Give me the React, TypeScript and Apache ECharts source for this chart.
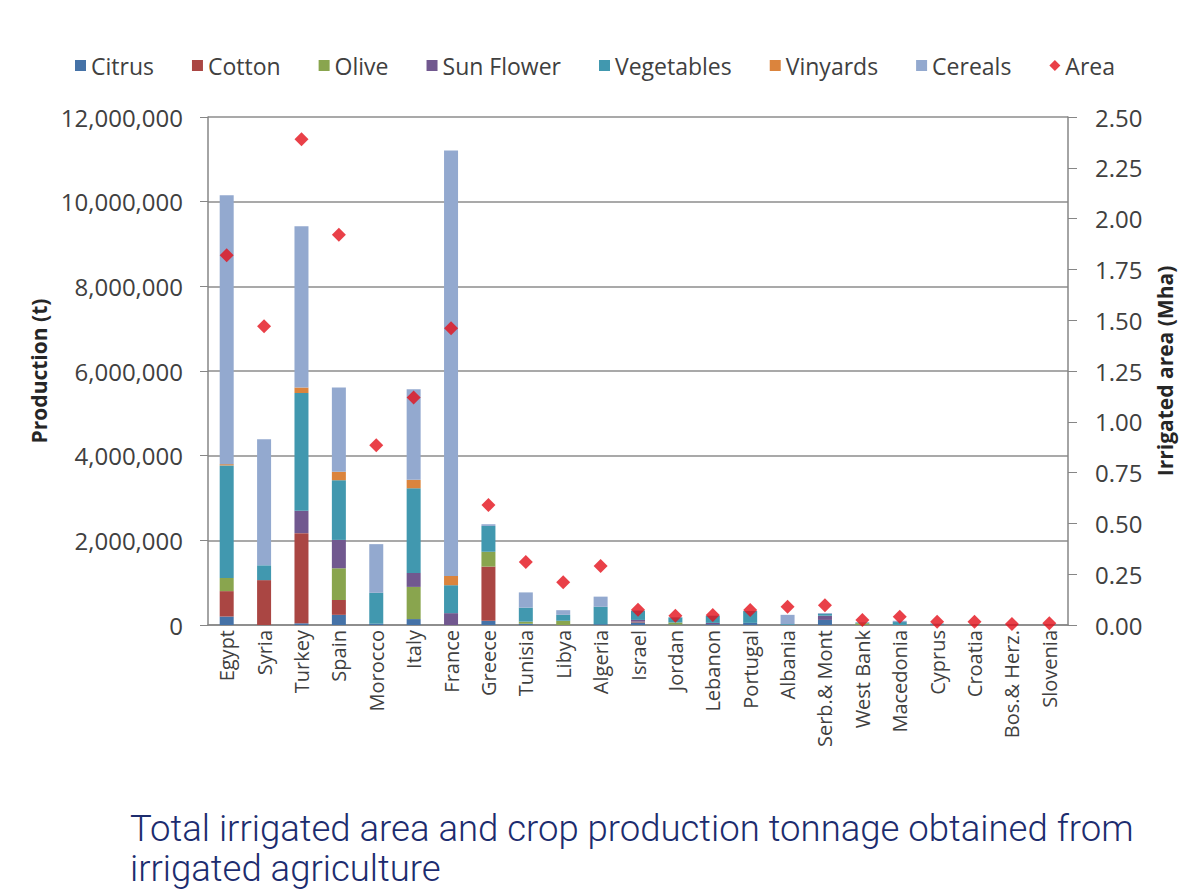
import React, { useEffect, useRef } from "react";
import * as echarts from "echarts";

const categories = ["Egypt", "Syria", "Turkey", "Spain", "Morocco", "Italy", "France", "Greece", "Tunisia", "Libya", "Algeria", "Israel", "Jordan", "Lebanon", "Portugal", "Albania", "Serb.& Mont", "West Bank", "Macedonia", "Cyprus", "Croatia", "Bos.& Herz.", "Slovenia"];

const citrus = [200000, 0, 40000, 240000, 30000, 140000, 0, 100000, 30000, 0, 20000, 60000, 10000, 20000, 50000, 0, 120000, 0, 0, 10000, 0, 0, 0];
const cotton = [600000, 1060000, 2130000, 350000, 0, 0, 0, 1280000, 0, 0, 0, 20000, 0, 0, 0, 0, 0, 0, 0, 0, 0, 0, 0];
const olive = [310000, 0, 0, 750000, 0, 760000, 0, 350000, 50000, 100000, 0, 0, 50000, 0, 0, 0, 0, 40000, 0, 0, 10000, 0, 0];
const sunFlower = [0, 0, 530000, 670000, 0, 330000, 280000, 0, 0, 0, 0, 40000, 0, 30000, 0, 0, 100000, 0, 0, 0, 0, 0, 0];
const vegetables = [2660000, 350000, 2780000, 1410000, 730000, 2000000, 660000, 610000, 330000, 140000, 410000, 220000, 120000, 170000, 280000, 20000, 40000, 20000, 70000, 20000, 10000, 10000, 10000];
const vinyards = [30000, 0, 130000, 200000, 0, 200000, 220000, 0, 0, 0, 0, 0, 0, 0, 0, 0, 0, 0, 0, 0, 0, 0, 0];
const cereals = [6350000, 2980000, 3810000, 1990000, 1150000, 2140000, 10050000, 40000, 360000, 110000, 240000, 0, 0, 0, 0, 220000, 20000, 0, 30000, 0, 0, 0, 0];
const area = [1.82, 1.47, 2.39, 1.92, 0.885, 1.12, 1.46, 0.59, 0.31, 0.21, 0.29, 0.075, 0.046, 0.049, 0.074, 0.09, 0.097, 0.025, 0.041, 0.016, 0.016, 0.005, 0.008];

const leftTicks = [0, 2000000, 4000000, 6000000, 8000000, 10000000, 12000000];

const barSeries = [
  { name: "Citrus", data: citrus, color: "#4572a7" },
  { name: "Cotton", data: cotton, color: "#aa4643" },
  { name: "Olive", data: olive, color: "#89a54e" },
  { name: "Sun Flower", data: sunFlower, color: "#71588f" },
  { name: "Vegetables", data: vegetables, color: "#4198af" },
  { name: "Vinyards", data: vinyards, color: "#db843d" },
  { name: "Cereals", data: cereals, color: "#93a9cf" },
];

const FONT = "'Open Sans', 'Noto Sans', sans-serif";

export default function App() {
  const ref = useRef<HTMLDivElement>(null);
  useEffect(() => {
    document.body.style.margin = "0";
    if (!ref.current) return;
    const chart = echarts.init(ref.current, undefined, { renderer: "svg" });
    chart.setOption({
      animation: false,
      backgroundColor: "#ffffff",
      textStyle: { fontFamily: FONT },
      legend: {
        top: 49,
        left: "center",
        itemWidth: 11,
        itemHeight: 11,
        itemGap: 38,
        textStyle: { fontSize: 23, color: "#404040", fontFamily: FONT },
        data: [
          ...barSeries.map((s) => ({ name: s.name, icon: "rect" })),
          { name: "Area", icon: "diamond" },
        ],
      },
      grid: { left: 208, right: 122, top: 117, bottom: 268 },
      xAxis: {
        type: "category",
        data: categories,
        axisLine: { lineStyle: { color: "#868686", width: 1.5 } },
        axisTick: { show: false },
        axisLabel: { rotate: 90, fontSize: 20, color: "#404040", margin: 5, interval: 0, fontFamily: FONT },
      },
      yAxis: [
        {
          type: "value",
          min: 0,
          max: 12000000,
          interval: 2000000,
          name: "Production (t)",
          nameLocation: "middle",
          nameGap: 158,
          nameTextStyle: { fontSize: 21, fontWeight: "bold", color: "#262626", fontFamily: FONT },
          axisLine: { show: true, lineStyle: { color: "#868686", width: 1.5 } },
          axisTick: { show: true, length: 8, lineStyle: { color: "#868686" } },
          axisLabel: {
            fontSize: 24,
            color: "#404040",
            margin: 25,
            fontFamily: FONT,
            formatter: (v: number) => (leftTicks.includes(v) ? v.toLocaleString("en-US") : ""),
          },
          splitLine: { show: true, lineStyle: { color: "#8c8c8c", width: 1.5 } },
        },
        {
          type: "value",
          min: 0,
          max: 2.5,
          interval: 0.25,
          name: "Irrigated area (Mha)",
          nameLocation: "middle",
          nameGap: 86,
          nameRotate: 90,
          nameTextStyle: { fontSize: 21, fontWeight: "bold", color: "#262626", fontFamily: FONT },
          axisLine: { show: true, lineStyle: { color: "#868686", width: 1.5 } },
          axisTick: { show: true, length: 9, lineStyle: { color: "#868686" } },
          axisLabel: { fontSize: 24, color: "#404040", margin: 27, fontFamily: FONT, formatter: (v: number) => v.toFixed(2) },
          splitLine: { show: false },
        },
      ],
      series: [
        ...barSeries.map((s) => ({
          name: s.name,
          type: "bar",
          stack: "total",
          barWidth: 14,
          data: s.data,
          itemStyle: { color: s.color },
        })),
        {
          name: "Area",
          type: "scatter",
          yAxisIndex: 1,
          symbol: "diamond",
          symbolSize: 14,
          data: area,
          z: 5,
          itemStyle: { color: "#e3101a" },
        },
      ],
      graphic: [
        {
          type: "text",
          left: 130,
          top: 808,
          style: {
            text: "Total irrigated area and crop production tonnage obtained from\nirrigated agriculture",
            font: "300 36.5px Roboto, 'Liberation Sans', sans-serif",
            fill: "#1c2c6e",
            lineHeight: 40,
          },
        },
      ],
    });
    return () => chart.dispose();
  }, []);
  return <div ref={ref} style={{ width: 1190, height: 893 }} />;
}
